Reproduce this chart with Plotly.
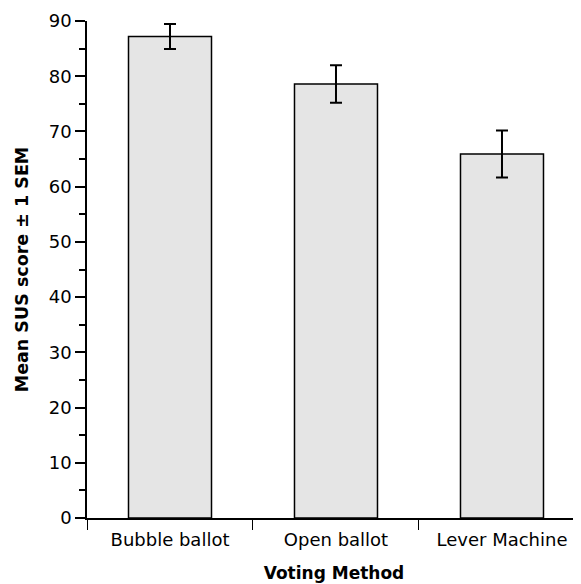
import plotly.graph_objects as go

categories = ["Bubble ballot", "Open ballot", "Lever Machine"]
mean_sus = [87.2, 78.6, 65.9]
sem = [2.25, 3.4, 4.25]
y_ticks = [0, 10, 20, 30, 40, 50, 60, 70, 80, 90]

FONT = "DejaVu Sans"

fig = go.Figure(
    go.Bar(
        x=categories,
        y=mean_sus,
        marker=dict(color="#e5e5e5", line=dict(color="black", width=1.5)),
        error_y=dict(type="data", array=sem, visible=True, color="black",
                     thickness=2, width=6),
    )
)

# page body has an 8px default margin, so the figure is sized to end at the window edge
fig.update_layout(
    width=573, height=576,
    margin=dict(l=79, r=0, t=13, b=66),
    plot_bgcolor="white", paper_bgcolor="white",
    bargap=0.5,
    showlegend=False,
    font=dict(family=FONT, size=18, color="black"),
)

fig.update_xaxes(
    range=[-0.5, 2.476],
    automargin=False,
    showline=True, linecolor="black", linewidth=1.5,
    ticks="outside", tickson="boundaries", ticklen=10, tickcolor="black", tickwidth=1,
    ticklabelstandoff=5,
    showgrid=False, zeroline=False,
    tickfont=dict(family=FONT, size=18),
    title=dict(text="<b>Voting Method</b>", font=dict(family=FONT, size=17), standoff=18),
)

fig.update_yaxes(
    range=[0, 90],
    automargin=False,
    tickvals=y_ticks,
    showline=True, linecolor="black", linewidth=1.5,
    ticks="outside", ticklen=10, tickcolor="black", tickwidth=1.5,
    minor=dict(dtick=5, ticks="outside", ticklen=6, tickcolor="black", tickwidth=1.5),
    showgrid=False, zeroline=False,
    tickfont=dict(family=FONT, size=18),
    title=dict(text="<b>Mean SUS score ± 1 SEM</b>", font=dict(family=FONT, size=17.5), standoff=16),
)

fig.write_html("out.html")
